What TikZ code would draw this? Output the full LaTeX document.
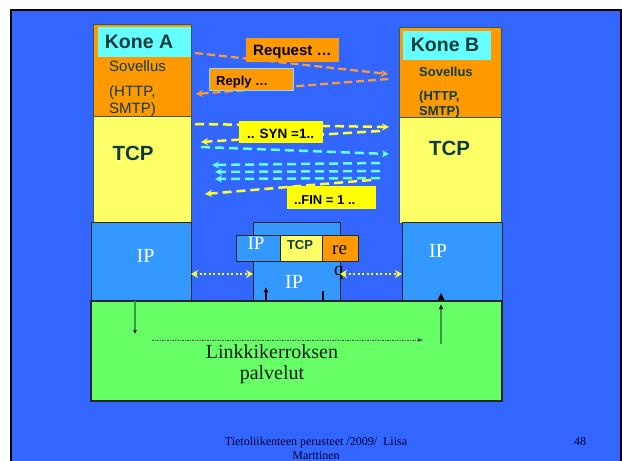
\documentclass[tikz,border=0pt]{standalone}
\usepackage{fontspec}
\setmainfont{Liberation Serif}
\setsansfont{Liberation Sans}
\usetikzlibrary{arrows.meta}
\definecolor{slidebg}{HTML}{3366FF}
\definecolor{appor}{HTML}{FF9900}
\definecolor{konecy}{HTML}{66FFFF}
\definecolor{tcpyel}{HTML}{FFFF66}
\definecolor{ipblue}{HTML}{3399FF}
\definecolor{linkgr}{HTML}{66FF66}
\definecolor{lblyel}{HTML}{FFFF00}
\definecolor{darkteal}{HTML}{0E3C3C}
\definecolor{stackline}{HTML}{2E5A5A}
\definecolor{dyel}{HTML}{FFFF33}
\definecolor{dcyan}{HTML}{66FFFF}
\definecolor{dora}{HTML}{FF9933}
\definecolor{navy}{HTML}{000033}
\definecolor{grline}{HTML}{3A9A3A}
\definecolor{replyedge}{HTML}{88DDFF}
\begin{document}
\begin{tikzpicture}[x=1pt,y=-1pt,
  box/.style={draw=stackline, line width=0.8pt, anchor=north west, inner sep=0pt, outer sep=0pt},
  ipbox/.style={box, draw=black!85, fill=ipblue},
  lblbox/.style={anchor=north west, inner sep=0pt, outer sep=0pt},
  sansbold/.style={font=\sffamily\bfseries\fontsize{#1}{#1}\selectfont, inner sep=0pt},
  sanslight/.style={font=\sffamily\fontsize{#1}{#1}\selectfont, inner sep=0pt},
  seriftxt/.style={font=\fontsize{#1}{#1}\selectfont, inner sep=0pt},
  tip/.style={-{Stealth[length=7pt,width=7pt]}},
  dashora/.style={draw=dora, line width=2.2pt, dash pattern=on 8pt off 4pt, tip},
  dashyel/.style={draw=dyel, line width=2.5pt, dash pattern=on 9pt off 5pt, tip},
  dashcy/.style={draw=dcyan, line width=2.5pt, dash pattern=on 9pt off 5pt, tip},
  dotyel/.style={draw=dyel, line width=2.4pt, dash pattern=on 2pt off 2.5pt,
     {Stealth[length=7pt,width=8pt]}-{Stealth[length=7pt,width=8pt]}},
  smallarr/.style={line width=1.3pt, -{Latex[length=5pt,width=5pt]}},
]
\useasboundingbox (0,0) rectangle (622,461);
% slide background
\fill[white] (0,0) rectangle (622,461);
\fill[black] (10,9) rectangle (622,461);
\fill[slidebg] (12,11) rectangle (620,461);

% host A stack
\node[box, fill=appor, minimum width=98, minimum height=92] (appA) at (93,24) {};
\node[lblbox, fill=konecy, minimum width=93, minimum height=30] (koneA) at (98,27) {};
\node[box, fill=tcpyel, minimum width=98, minimum height=106] (tcpA) at (93,116) {};
\node[ipbox, minimum width=100, minimum height=78] (ipA) at (91,222) {};
% host B stack
\node[box, fill=appor, minimum width=102, minimum height=90] (appB) at (399,27) {};
\node[lblbox, fill=konecy, minimum width=88, minimum height=29] (koneB) at (403,31) {};
\node[box, fill=tcpyel, minimum width=102, minimum height=106] (tcpB) at (399,117) {};
\node[ipbox, minimum width=100, minimum height=78] (ipB) at (402,222) {};
% middle router IP
\node[ipbox, minimum width=87, minimum height=78] (ipM) at (253,222) {};
\node[ipbox, minimum width=44, minimum height=26] (hIP) at (236,235) {};
\node[box, draw=black!85, fill=tcpyel, minimum width=42, minimum height=26] (hTCP) at (280,235) {};
\node[box, draw=black!85, fill=appor, minimum width=36, minimum height=26] (hRe) at (322,235) {};
% link layer
\node[box, draw=black!85, line width=1.2pt, fill=linkgr, minimum width=411, minimum height=100] (link) at (91,301) {};

% texts in stacks
\node[sansbold=19.5, text=darkteal] (koneAt) at (139,41.5) {Kone A};
\node[sanslight=15, text=darkteal, anchor=base west] (sovA) at (109,71) {Sovellus};
\node[sanslight=15, text=darkteal, anchor=base west] (httpA) at (109,96.5) {(HTTP,};
\node[sanslight=15, text=darkteal, anchor=base west] (smtpA) at (109,113) {SMTP)};
\node[sansbold=20.5, text=darkteal] (tcpAt) at (133,153) {TCP};
\node[sansbold=19.5, text=darkteal] (koneBt) at (445,44.5) {Kone B};
\node[sansbold=13, text=darkteal, anchor=base west] (sovB) at (419,76.5) {Sovellus};
\node[sansbold=13, text=darkteal, anchor=base west] (httpB) at (419,100) {(HTTP,};
\node[sansbold=13, text=darkteal, anchor=base west] (smtpB) at (419,115) {SMTP)};
\node[sansbold=20.5, text=darkteal] (tcpBt) at (449.5,148.7) {TCP};
\node[seriftxt=20, text=white] (ipAt) at (145.5,256) {IP};
\node[seriftxt=20, text=white] (ipBt) at (438,250.5) {IP};
\node[seriftxt=20, text=white] (ipMt) at (294,282) {IP};
\node[seriftxt=19, text=white] (hIPt) at (256,243) {IP};
\node[sansbold=13, text=darkteal] (hTCPt) at (300,245.5) {TCP};
\node[seriftxt=19, text=black, anchor=base west] (hReT) at (332,254.5) {re};
\node[seriftxt=19, text=black, anchor=base west] (hQt) at (334,275) {q};

% application and transport arrows
\coordinate (reqS) at (195,53);   \coordinate (reqE) at (388,74);
\coordinate (repS) at (388,79);   \coordinate (repE) at (196,94);
\coordinate (syn1S) at (195,124); \coordinate (syn1E) at (389,127);
\coordinate (syn2S) at (380,131); \coordinate (syn2E) at (201,142);
\coordinate (c1S) at (201,147);   \coordinate (c1E) at (389,154);
\coordinate (c2S) at (380,163);   \coordinate (c2E) at (212,165);
\coordinate (c3S) at (380,171);   \coordinate (c3E) at (215,172);
\coordinate (c4S) at (380,178);   \coordinate (c4E) at (215,179);
\coordinate (finS) at (371,180);  \coordinate (finE) at (205,194);
\draw[dashora] (reqS) -- (reqE);
\draw[dashora] (repS) -- (repE);
\draw[dashyel] (syn1S) -- (syn1E);
\draw[dashyel] (syn2S) -- (syn2E);
\draw[dashcy] (c1S) -- (c1E);
\draw[dashcy] (c2S) -- (c2E);
\draw[dashcy] (c3S) -- (c3E);
\draw[dashcy] (c4S) -- (c4E);
\draw[dashyel] (finS) -- (finE);

% label boxes
\node[lblbox, fill=appor, minimum width=93, minimum height=24] (reqbox) at (246,38) {};
\node[sansbold=15, anchor=base west] (reqt) at (253,55) {Request …};
\node[lblbox, fill=appor, draw=replyedge, line width=0.8pt, minimum width=84, minimum height=22] (repbox) at (209,68) {};
\node[sansbold=13, anchor=base west] (rept) at (216,85) {Reply …};
\node[lblbox, fill=lblyel, minimum width=84, minimum height=22] (synbox) at (239,121) {};
\node[sansbold=13.5, anchor=base west] (synt) at (247,138) {.. SYN =1..};
\node[lblbox, fill=lblyel, minimum width=89, minimum height=23] (finbox) at (287,186) {};
\node[sansbold=13, anchor=base west] (fint) at (294,204) {..FIN = 1 ..};

% network layer arrows
\draw[dotyel] (ipA.east |- 0,274) -- (ipM.west |- 0,274);
\draw[dotyel] (ipM.east |- 0,274) -- (ipB.west |- 0,274);
\coordinate (mUpS) at (266,300); \coordinate (mUpE) at (266,287);
\draw[smallarr, black] (mUpS) -- (mUpE);
\coordinate (mTkS) at (323,291); \coordinate (mTkE) at (323,300);
\draw[black, line width=1.3pt] (mTkS) -- (mTkE);
\fill[black] (441,293) -- (437.5,300) -- (444.5,300) -- cycle;

% link layer
\coordinate (dnS) at (135,301); \coordinate (dnE) at (135,334);
\draw[grline, line width=1.2pt, -{Latex[length=4pt,width=4pt,black]}] (dnS) -- (dnE);
\coordinate (upS) at (441,344); \coordinate (upE) at (441,304);
\draw[grline, line width=1.4pt, -{Latex[length=5pt,width=4.5pt,black]}] (upS) -- (upE);
\coordinate (hzS) at (152,340); \coordinate (hzE) at (423,340);
\draw[black!70, line width=0.6pt, dash pattern=on 1.5pt off 1pt, -{Latex[length=5pt,width=4pt]}] (hzS) -- (hzE);
\node[seriftxt=20, text=black!90, anchor=base] (lt1) at (272,358) {Linkkikerroksen};
\node[seriftxt=20, text=black!90, anchor=base] (lt2) at (272,379) {palvelut};

% footer
\node[seriftxt=12, text=navy, anchor=base] (ft1) at (316,445) {Tietoliikenteen perusteet /2009/\ \ Liisa};
\node[seriftxt=12, text=navy, anchor=base] (ft2) at (316,459.3) {Marttinen};
\node[seriftxt=12, text=navy, anchor=base] (pg) at (580,445) {48};
\end{tikzpicture}
\end{document}
